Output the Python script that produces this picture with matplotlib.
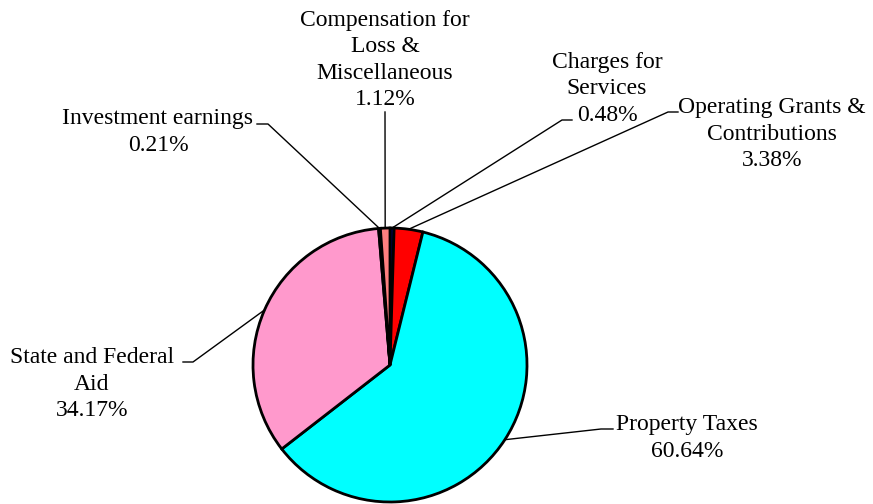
import matplotlib.pyplot as plt
import numpy as np

plt.rcParams['font.family'] = ['Liberation Serif', 'DejaVu Serif']

# slices, clockwise from the top
labels = ['Charges for\nServices', 'Operating Grants &\nContributions', 'Property Taxes',
          'State and Federal\nAid', 'Investment earnings', 'Compensation for\nLoss &\nMiscellaneous']
shares = [0.48, 3.38, 60.64, 34.17, 0.21, 1.12]
colors = ['#000080', '#FF0000', '#00FFFF', '#FF99CC', '#333333', '#FF8080']

# label text centre and leader line elbow (pixels, y down)
text_pos = [(607, 89), (772, 134), (687, 438), (92, 384), (158, 132), (385, 60)]
elbow = [[(572, 120), (562, 120)], [(678, 112), (668, 112)], [(613, 429), (601, 429)],
         [(183, 362), (193, 362)], [(257, 124), (268, 124)], [(385, 112)]]

W, H = 873, 504
cx, cy, r = 390, 365, 137

fig = plt.figure(figsize=(8.73, 5.04), dpi=100)
ax = fig.add_axes([0, 0, 1, 1])

ax.pie(shares, colors=colors, startangle=90, counterclock=False,
       center=(cx, H - cy), radius=r,
       wedgeprops=dict(edgecolor='black', linewidth=2))

cum = np.cumsum([0] + shares)
for i, lab in enumerate(labels):
    mid = (cum[i] + cum[i + 1]) / 2 / 100 * 2 * np.pi
    px = cx + r * np.sin(mid)
    py = cy - r * np.cos(mid)
    pts = elbow[i] + [(px, py)]
    ax.plot([p[0] for p in pts], [H - p[1] for p in pts], color='black', lw=1)
    tx, ty = text_pos[i]
    ax.text(tx, H - ty, f'{lab}\n{shares[i]:.2f}%', ha='center', va='center',
            fontsize=17, linespacing=1.35)

ax.set_xlim(0, W)
ax.set_ylim(0, H)
ax.set_aspect('equal')
ax.axis('off')

fig.savefig('out.png', dpi=100)
